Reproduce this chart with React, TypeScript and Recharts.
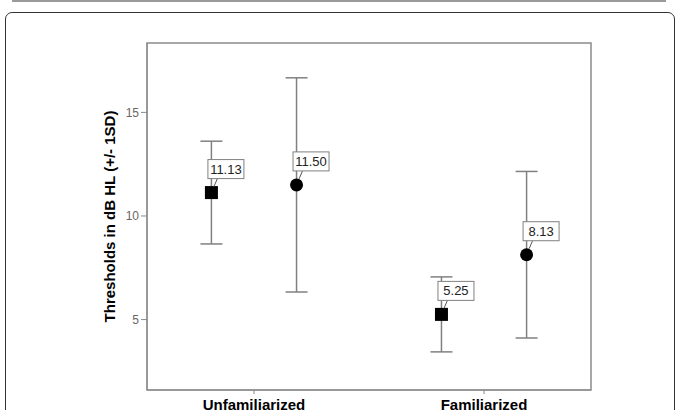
import * as React from 'react';
import { ComposedChart, Scatter, ErrorBar, XAxis, YAxis, ReferenceArea } from 'recharts';

// group labels and where they sit on the x scale
const CATEGORIES = ['Unfamiliarized', 'Familiarized'];
const CATEGORY_POS = [1, 2];
const GROUP_OFFSET = 0.185;

// square series (left in each group)
const SQUARE_MEANS = [11.13, 5.25];
const SQUARE_SD = [2.48, 1.81];

// circle series (right in each group)
const CIRCLE_MEANS = [11.5, 8.13];
const CIRCLE_SD = [5.17, 4.02];

const Y_TICKS = [5, 10, 15];
const Y_DOMAIN = [1.6, 18.35];
const X_DOMAIN = [0.535, 2.465];

const squareData = CATEGORY_POS.map((p, i) => ({
  x: p - GROUP_OFFSET,
  y: SQUARE_MEANS[i],
  sd: SQUARE_SD[i],
}));
const circleData = CATEGORY_POS.map((p, i) => ({
  x: p + GROUP_OFFSET,
  y: CIRCLE_MEANS[i],
  sd: CIRCLE_SD[i],
}));

const FRAME = '#8a8a8a';
const BAR = '#808080';

// boxed value tag with a short leader line down to the marker
function ValueTag({ cx, cy, value }: { cx: number; cy: number; value: number }) {
  return (
    <g>
      <line x1={cx + 6} y1={cy - 14} x2={cx + 2.5} y2={cy - 6} stroke="#555" strokeWidth={1} />
      <rect x={cx - 3.5} y={cy - 33} width={36} height={19} fill="#fff" stroke={BAR} strokeWidth={1} />
      <text
        x={cx + 14.5}
        y={cy - 23.5}
        textAnchor="middle"
        dominantBaseline="central"
        fontSize={13}
        fill="#222"
      >
        {value.toFixed(2)}
      </text>
    </g>
  );
}

function SquareMarker(props: any) {
  const { cx, cy, payload } = props;
  return (
    <g>
      <rect x={cx - 6.5} y={cy - 6.5} width={13} height={13} fill="#000" />
      <ValueTag cx={cx} cy={cy} value={payload.y} />
    </g>
  );
}

function CircleMarker(props: any) {
  const { cx, cy, payload } = props;
  return (
    <g>
      <circle cx={cx} cy={cy} r={6.5} fill="#000" />
      <ValueTag cx={cx} cy={cy} value={payload.y} />
    </g>
  );
}

export default function App() {
  return (
    <div
      style={{
        position: 'absolute',
        left: 0,
        top: 0,
        width: 678,
        height: 410,
        overflow: 'hidden',
        background: '#fff',
        fontFamily: "Arial, 'Liberation Sans', sans-serif",
      }}
    >
      {/* bottom edge of the panel above */}
      <div style={{ position: 'absolute', left: 12, top: 0, width: 654, height: 2, background: '#9a9a9a' }} />
      {/* outer rounded panel */}
      <div
        style={{
          position: 'absolute',
          left: 5,
          top: 12,
          width: 670,
          height: 420,
          border: '1.5px solid #333',
          borderRadius: 7,
          boxSizing: 'border-box',
        }}
      />
      <div style={{ position: 'absolute', left: 0, top: 0 }}>
        <ComposedChart width={678} height={410} margin={{ top: 43, right: 87, bottom: 0, left: 73 }}>
          <XAxis
            type="number"
            dataKey="x"
            domain={X_DOMAIN}
            ticks={CATEGORY_POS}
            tickFormatter={(v: number) => CATEGORIES[v - 1]}
            allowDataOverflow
            height={20}
            tickSize={4}
            tickMargin={5}
            stroke={FRAME}
            tick={{ fill: '#000', fontSize: 15, fontWeight: 'bold' }}
          />
          <YAxis
            type="number"
            domain={Y_DOMAIN}
            ticks={Y_TICKS}
            allowDataOverflow
            width={74}
            tickSize={6}
            tickMargin={2}
            stroke={FRAME}
            tick={{ fill: '#666', fontSize: 12 }}
            label={{
              value: 'Thresholds in dB HL (+/- 1SD)',
              angle: -90,
              position: 'center',
              fill: '#000',
              fontSize: 15,
              fontWeight: 'bold',
            }}
          />
          {/* plot frame */}
          <ReferenceArea
            x1={X_DOMAIN[0]}
            x2={X_DOMAIN[1]}
            y1={Y_DOMAIN[0]}
            y2={Y_DOMAIN[1]}
            fill="none"
            stroke={FRAME}
            strokeWidth={1.5}
            ifOverflow="visible"
          />
          <Scatter data={squareData} dataKey="y" shape={SquareMarker} isAnimationActive={false}>
            <ErrorBar dataKey="sd" direction="y" width={11} stroke={BAR} strokeWidth={1.5} isAnimationActive={false} />
          </Scatter>
          <Scatter data={circleData} dataKey="y" shape={CircleMarker} isAnimationActive={false}>
            <ErrorBar dataKey="sd" direction="y" width={11} stroke={BAR} strokeWidth={1.5} isAnimationActive={false} />
          </Scatter>
        </ComposedChart>
      </div>
    </div>
  );
}
